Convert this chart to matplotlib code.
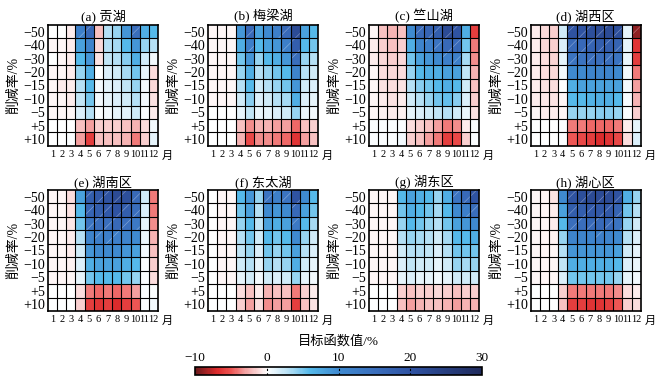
import numpy as np
import matplotlib
matplotlib.use('Agg')
import matplotlib.pyplot as plt
from matplotlib.colors import LinearSegmentedColormap, Normalize
from matplotlib.patches import Rectangle

plt.rcParams['font.family'] = ['Liberation Serif', 'Noto Sans CJK SC', 'DejaVu Sans']
plt.rcParams['hatch.linewidth'] = 0.5

# --- datos ---
meses = [str(m) for m in range(1, 13)]
filas = ['\u221250', '\u221240', '\u221230', '\u221220', '\u221215', '\u221210', '\u22125', '+5', '+10']
titulos = ['(a) 贡湖', '(b) 梅梁湖', '(c) 竺山湖', '(d) 湖西区',
           '(e) 湖南区', '(f) 东太湖', '(g) 湖东区', '(h) 湖心区']

gonghu = [
    [0, 0, -0.5, 12, 16, -2, 3, 4, 9, 15, 7, 6],
    [-0.3, -0.3, -0.5, 8, 11, -1.2, 3, 3.5, 6, 9, 4, 3],
    [0, -0.3, -0.5, 6, 9, -0.8, 2.5, 3, 4.5, 7, 2, 0.5],
    [-0.3, -0.3, -0.5, 4, 7, 0, 1.5, 2, 3.5, 5, 1, -1],
    [-0.3, -0.5, -0.5, 3, 6, 0.5, 1.2, 1.5, 2.5, 4, 0.5, -1.2],
    [-0.3, -0.3, -0.5, 2.5, 5, 0.5, 1, 1.5, 2, 3, 0.5, -0.8],
    [-0.3, -0.3, -0.3, 1.5, 3, 0.3, 0.6, 1, 1.2, 2, 0.3, -0.5],
    [0, 0, 0, -2, -3, -1.5, -1.5, -1.5, -2, -2.5, -1, 0.5],
    [0, 0, 0.2, -3, -6, -2, -2, -2, -2.5, -4, -1.5, 1],
]
meilianghu = [
    [-0.3, -0.3, -0.3, 9, 16, 8, 10, 12, 16, 22, 8, 6],
    [-0.3, -0.3, -0.3, 7, 12, 6, 8, 9, 12, 18, 6, 5],
    [-0.3, -0.3, -0.3, 5, 9, 4, 6, 7, 9, 15, 4, 3],
    [-0.3, -0.3, -0.3, 4, 7, 3, 4, 5, 6, 11, 3, 2],
    [-0.3, -0.3, -0.3, 3, 6, 2, 3, 4, 5, 9, 2, 1.5],
    [-0.3, -0.3, -0.3, 2, 4.5, 1.5, 2, 3, 3.5, 7, 1.5, 1],
    [0, 0, 0, 1, 2.5, 0.8, 1, 1.5, 2, 4, 0.8, 0.5],
    [0, 0, 0, -2, -3.5, -2.5, -2.5, -3, -3, -4.5, -2, -1.5],
    [0, 0, 0, -2.5, -5.5, -3.5, -3.5, -4, -4.5, -6.5, -3, -2],
]
zhushanhu = [
    [-0.3, -2, -2.5, -2, 10, 16, 17, 18, 22, 20, 7, -6],
    [-0.5, -1.5, -2, -1.5, 7, 11, 12, 14, 16, 16, 5, -4],
    [-0.5, -1.2, -1.5, -1.2, 5, 8, 9, 10, 12, 12, 3.5, -3.5],
    [-0.3, -1, -1.2, -1, 4, 6, 7, 7, 8, 8, 2.5, -2.5],
    [-0.3, -0.8, -1, -0.8, 3, 4.5, 5, 6, 7, 6, 2, -2],
    [-0.3, -0.6, -0.8, -0.6, 2, 3, 4, 5, 5.5, 4.5, 1.5, -1.5],
    [-0.2, -0.4, -0.5, -0.4, 1, 1.5, 2, 2.5, 3, 2, 0.8, -0.8],
    [0.3, 0.3, 0.3, 0.3, -1, -1.5, -2, -3, -4, -3.5, -0.5, 0.2],
    [0.3, 0.3, 0.3, 0.5, -1.5, -2, -3, -4, -6, -5.5, -1.5, 0.3],
]
huxiqu = [
    [-0.5, -1.2, -1.5, 2, 20, 20, 21, 22, 22, 21, 1, -9],
    [-0.5, -1.2, -1.5, 1.5, 16, 16, 17, 18, 18, 17, 1, -6.5],
    [-0.5, -1, -1.3, 1, 14, 14, 15, 15, 15, 14, 0.8, -6],
    [-0.5, -1, -1.2, 0.5, 10, 10, 11, 11, 11, 10, 0.6, -4],
    [-0.5, -0.8, -1, 0, 7, 8, 8, 8, 8, 8, 0.5, -3],
    [-0.5, -0.7, -0.8, -0.3, 6, 6, 6.5, 7, 7, 6, 0.4, -2.5],
    [-0.3, -0.5, -0.6, -0.3, 4, 4, 4, 4.5, 4.5, 4, 0.3, -1.5],
    [0, 0, 0, 0.3, -4, -4, -4.5, -4.5, -4.5, -4, -0.5, 1],
    [0, 0, 0, 0.3, -5, -5.5, -6, -7, -6.5, -5.5, -1, 1.5],
]
hunanqu = [
    [-0.3, -0.3, -1, 8, 18, 19, 20, 22, 21, 16, 2, -4],
    [-0.3, -0.3, -0.8, 6, 17, 18, 19, 20, 18, 15, 1.5, -4],
    [-0.3, -0.3, -0.7, 5, 14, 15, 15, 16, 15, 13, 1, -3.5],
    [-0.3, -0.3, -0.6, 3, 11, 12, 12, 12, 11, 10, 0.8, -2.5],
    [-0.3, -0.3, -0.5, 2, 9, 10, 10, 10, 9, 8, 0.5, -2],
    [-0.3, -0.3, -0.4, 1.5, 7, 8, 8, 8, 7, 6, 0.3, -1.5],
    [-0.2, -0.2, -0.3, 1, 5, 6, 6, 6, 5, 4, 0.3, -1],
    [0, 0, 0, -1, -4, -4.5, -4, -4.5, -4, -3, 0.2, 0.3],
    [0, 0, 0, -1.5, -6, -6.5, -6, -7, -6, -5, 0.3, 0.5],
]
dongtaihu = [
    [0, -0.3, -0.3, 6, 9, 4, 14, 12, 14, 20, 10, 6],
    [0, -0.3, -0.3, 5, 8, 3, 10, 9, 10, 16, 8, 5],
    [0, -0.3, -0.3, 4, 6, 2.5, 8, 7, 8, 13, 6, 3.5],
    [0, -0.3, -0.3, 3, 5, 2, 6, 5, 6, 10, 4, 2],
    [0, -0.3, -0.3, 2.5, 4, 1.5, 5, 4, 5, 8, 3, 1.5],
    [0, -0.2, -0.3, 2, 3, 1, 4, 3, 4, 7, 2, 1],
    [0, -0.2, -0.2, 1, 2, 0.5, 2, 1.5, 2, 4, 1, 0.5],
    [0, 0, 0, -1, -2, -0.5, -2.5, -2, -2, -4, -1.5, -0.5],
    [0, 0, 0, -1.5, -3, -1, -3.5, -3, -3, -6, -2, -0.8],
]
hudongqu = [
    [-0.3, -0.3, -0.3, 6, 8, 7, 6, 4, 7, 14, 16, 20],
    [-0.3, -0.3, -0.3, 5, 7, 6, 5, 3.5, 6, 10, 12, 15],
    [-0.3, -0.3, -0.3, 4, 6, 5, 4, 3, 5, 8, 9, 10],
    [-0.3, -0.3, -0.3, 3, 4, 3.5, 3, 2, 3.5, 6, 6, 7],
    [-0.3, -0.3, -0.3, 2, 3, 3, 2.5, 1.5, 3, 5, 5, 5],
    [-0.3, -0.3, -0.3, 1.5, 2.5, 2, 2, 1, 2, 4, 3.5, 4],
    [-0.2, -0.2, -0.2, 1, 1.5, 1, 1, 0.5, 1, 2, 2, 2],
    [0, 0, 0, -1.5, -2, -1.5, -1.5, -1.2, -1.5, -2, -1.5, -1.5],
    [0, 0, 0, -2, -3, -2.5, -2, -2, -2.5, -3, -2.5, -2.5],
]
huxinqu = [
    [-0.3, -0.3, -0.8, 10, 20, 21, 22, 22, 22, 20, 7, 4],
    [-0.3, -0.3, -0.6, 8, 18, 18, 19, 19, 19, 17, 5, 3],
    [-0.3, -0.3, -0.5, 6, 15, 15, 16, 16, 16, 14, 4, 2],
    [-0.3, -0.3, -0.4, 4, 11, 11, 11, 12, 11, 10, 3, 1.5],
    [-0.3, -0.3, -0.3, 3, 9, 9, 9, 9, 9, 8, 2, 1],
    [-0.3, -0.3, -0.3, 2.5, 7, 7, 7, 7, 7, 6, 1.5, 0.8],
    [-0.2, -0.2, -0.2, 1.5, 5, 5, 5, 5, 5, 4, 1, 0.5],
    [0, 0, 0, -1.5, -4, -4, -4, -4, -4, -3.5, -1, -0.5],
    [0, 0, 0, -2, -6, -6, -6.5, -6.5, -6, -5, -1.5, -1],
]
datos = [gonghu, meilianghu, zhushanhu, huxiqu, hunanqu, dongtaihu, hudongqu, huxinqu]

# --- mapa de colores ---
VMIN, VMAX = -10, 30
nodos = [(-10, '#6a1a1c'), (-7, '#dc2b2c'), (-5, '#ee5553'), (-3, '#f4a3a3'),
         (-1, '#fbdfdf'), (0, '#ffffff'), (1, '#e6f4fb'), (3, '#b6e0f5'),
         (6, '#55b9ea'), (10, '#3f8ad0'), (15, '#3a6fbd'), (20, '#2f53a3'),
         (30, '#1f2a5c')]
cmap = LinearSegmentedColormap.from_list(
    'rojo_azul', [((v - VMIN) / (VMAX - VMIN), c) for v, c in nodos])
norm = Normalize(VMIN, VMAX)

fig = plt.figure(figsize=(6.71, 3.83), dpi=100)
izq = [0.0715, 0.310, 0.550, 0.791]
abajo = [0.619, 0.188]
ancho, alto = 0.164, 0.316

for i, (titulo, z) in enumerate(zip(titulos, datos)):
    z = np.array(z)
    ax = fig.add_axes([izq[i % 4], abajo[i // 4], ancho, alto])
    xe = np.arange(0.5, 13.5, 1)
    ye = np.arange(-0.5, 9.5, 1)
    ax.pcolormesh(xe, ye, z, cmap=cmap, norm=norm, edgecolors='none')
    # rayado para celdas con valores grandes
    for r in range(z.shape[0]):
        for c in range(z.shape[1]):
            if z[r, c] >= 12 or z[r, c] <= -8:
                ax.add_patch(Rectangle((c + 0.5, r - 0.5), 1, 1, facecolor='none',
                                       edgecolor=(1, 1, 1, 0.35), lw=0, hatch='//'))
    # rejilla
    for x in xe[1:-1]:
        ax.axvline(x, color='k', lw=0.8)
    for y in ye[1:-1]:
        ax.axhline(y, color='k', lw=0.8)
    ax.set_xlim(0.5, 12.5)
    ax.set_ylim(8.5, -0.5)
    ax.set_xticks(range(1, 13))
    ax.set_xticklabels(meses, fontsize=7.5)
    ax.set_yticks(range(9))
    ax.set_yticklabels(filas, fontsize=10)
    ax.tick_params(length=0, pad=2)
    ax.tick_params(axis='x', pad=3)
    for s in ax.spines.values():
        s.set_linewidth(1.2)
    ax.set_title(titulo, fontsize=9.5, pad=3)
    ax.set_ylabel('削减率/%', fontsize=10, labelpad=2)
    ax.text(1.035, -0.085, '月', transform=ax.transAxes, fontsize=8, va='center', ha='left')

# barra de color
cax = fig.add_axes([0.2906, 0.021, 0.428, 0.021])
sm = plt.cm.ScalarMappable(norm=norm, cmap=cmap)
cb = fig.colorbar(sm, cax=cax, orientation='horizontal')
cb.set_ticks([-10, 0, 10, 20, 30])
cb.set_ticklabels(['\u221210', '0', '10', '20', '30'])
cax.xaxis.set_ticks_position('top')
cax.tick_params(length=0, labelsize=9.5, pad=2)
cb.outline.set_linewidth(1.2)
for v in [0, 10, 20]:
    cax.axvline(v, color='k', ls=(0, (2, 2)), lw=0.8)
fig.text(0.504, 0.109, '目标函数值/%', ha='center', va='center', fontsize=9.5)

plt.savefig('out.png', dpi=100)
